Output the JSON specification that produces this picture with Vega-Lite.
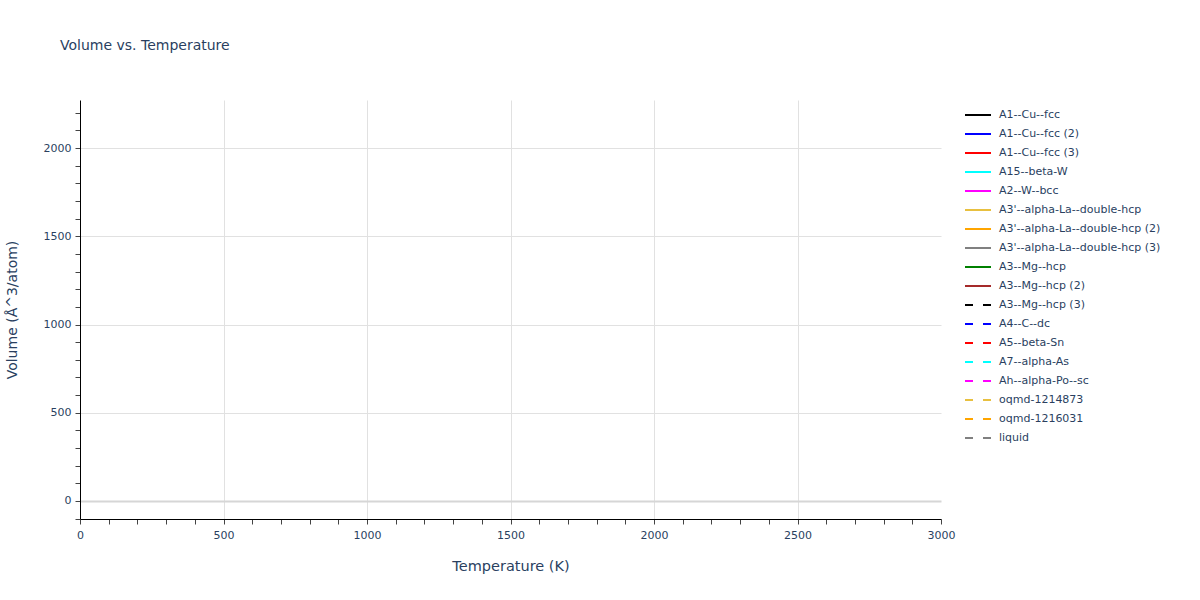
{
  "$schema": "https://vega.github.io/schema/vega-lite/v6.json",
  "autosize": "none",
  "width": 861,
  "height": 419,
  "padding": {"left": 80, "top": 100, "right": 259, "bottom": 81},
  "background": "white",
  "config": {
    "font": "DejaVu Sans",
    "view": {"stroke": null}
  },
  "title": {
    "text": "Volume vs. Temperature",
    "anchor": "start",
    "frame": "group",
    "dx": -20,
    "offset": 47,
    "fontSize": 14,
    "fontWeight": "normal",
    "color": "#2a3f5f",
    "font": "DejaVu Sans"
  },
  "data": {
    "values": [
      {"phase": "A1--Cu--fcc", "temperature": null, "volume": null},
      {"phase": "A1--Cu--fcc (2)", "temperature": null, "volume": null},
      {"phase": "A1--Cu--fcc (3)", "temperature": null, "volume": null},
      {"phase": "A15--beta-W", "temperature": null, "volume": null},
      {"phase": "A2--W--bcc", "temperature": null, "volume": null},
      {"phase": "A3'--alpha-La--double-hcp", "temperature": null, "volume": null},
      {"phase": "A3'--alpha-La--double-hcp (2)", "temperature": null, "volume": null},
      {"phase": "A3'--alpha-La--double-hcp (3)", "temperature": null, "volume": null},
      {"phase": "A3--Mg--hcp", "temperature": null, "volume": null},
      {"phase": "A3--Mg--hcp (2)", "temperature": null, "volume": null},
      {"phase": "A3--Mg--hcp (3)", "temperature": null, "volume": null},
      {"phase": "A4--C--dc", "temperature": null, "volume": null},
      {"phase": "A5--beta-Sn", "temperature": null, "volume": null},
      {"phase": "A7--alpha-As", "temperature": null, "volume": null},
      {"phase": "Ah--alpha-Po--sc", "temperature": null, "volume": null},
      {"phase": "oqmd-1214873", "temperature": null, "volume": null},
      {"phase": "oqmd-1216031", "temperature": null, "volume": null},
      {"phase": "liquid", "temperature": null, "volume": null}
    ]
  },
  "mark": {"type": "line", "strokeWidth": 2},
  "encoding": {
    "x": {
      "field": "temperature",
      "type": "quantitative",
      "scale": {"domain": [0, 3000], "nice": false, "zero": false},
      "axis": {
        "title": "Temperature (K)",
        "titleFont": "DejaVu Sans",
        "titleFontSize": 14.5,
        "titleFontWeight": "normal",
        "titleColor": "#2a3f5f",
        "titlePadding": 19,
        "values": [0,100,200,300,400,500,600,700,800,900,1000,1100,1200,1300,1400,1500,1600,1700,1800,1900,2000,2100,2200,2300,2400,2500,2600,2700,2800,2900,3000],
        "labelExpr": "datum.value % 500 === 0 ? datum.label : ''",
        "format": "d",
        "labelFont": "DejaVu Sans",
        "labelFontSize": 11,
        "labelColor": "#2a3f5f",
        "labelPadding": 5,
        "labelOverlap": false,
        "labelFlush": false,
        "domainColor": "#000000",
        "domainWidth": 1,
        "tickColor": "#444444",
        "tickSize": 5,
        "tickWidth": 1,
        "grid": true,
        "gridColor": "#e1e1e1",
        "gridWidth": 1,
        "gridOpacity": {"condition": {"test": "datum.value % 500 === 0 && datum.value > 0 && datum.value < 3000", "value": 1}, "value": 0}
      }
    },
    "y": {
      "field": "volume",
      "type": "quantitative",
      "scale": {"domain": [-102, 2272], "nice": false, "zero": false},
      "axis": {
        "title": "Volume (Å^3/atom)",
        "titleFont": "DejaVu Sans",
        "titleFontSize": 14,
        "titleFontWeight": "normal",
        "titleColor": "#2a3f5f",
        "titlePadding": 24,
        "values": [-100,0,100,200,300,400,500,600,700,800,900,1000,1100,1200,1300,1400,1500,1600,1700,1800,1900,2000,2100,2200],
        "labelExpr": "datum.value % 500 === 0 ? datum.label : ''",
        "format": "d",
        "labelFont": "DejaVu Sans",
        "labelFontSize": 11,
        "labelColor": "#2a3f5f",
        "labelPadding": 4,
        "labelOverlap": false,
        "domainColor": "#000000",
        "domainWidth": 1,
        "tickColor": "#444444",
        "tickSize": 5,
        "tickWidth": 1,
        "grid": true,
        "gridColor": {"condition": {"test": "datum.value === 0", "value": "#d6d6d6"}, "value": "#e1e1e1"},
        "gridWidth": {"condition": {"test": "datum.value === 0", "value": 2}, "value": 1},
        "gridOpacity": {"condition": {"test": "datum.value % 500 === 0", "value": 1}, "value": 0}
      }
    },
    "color": {
      "field": "phase",
      "type": "nominal",
      "title": null,
      "scale": {
        "domain": ["A1--Cu--fcc","A1--Cu--fcc (2)","A1--Cu--fcc (3)","A15--beta-W","A2--W--bcc","A3'--alpha-La--double-hcp","A3'--alpha-La--double-hcp (2)","A3'--alpha-La--double-hcp (3)","A3--Mg--hcp","A3--Mg--hcp (2)","A3--Mg--hcp (3)","A4--C--dc","A5--beta-Sn","A7--alpha-As","Ah--alpha-Po--sc","oqmd-1214873","oqmd-1216031","liquid"],
        "range": ["#000000","#0000ff","#ff0000","#00ffff","#ff00ff","#e8c040","#ffa500","#808080","#008000","#a52a2a","#000000","#0000ff","#ff0000","#00ffff","#ff00ff","#e8c040","#ffa500","#808080"]
      },
      "legend": {
        "orient": "none",
        "legendX": 884,
        "legendY": 1,
        "symbolType": "stroke",
        "symbolSize": 676,
        "symbolStrokeWidth": 2,
        "labelFont": "DejaVu Sans",
        "labelFontSize": 11,
        "labelColor": "#2a3f5f",
        "rowPadding": -1,
        "labelOffset": 7,
        "labelLimit": 300
      }
    },
    "strokeDash": {
      "field": "phase",
      "type": "nominal",
      "title": null,
      "scale": {
        "domain": ["A1--Cu--fcc","A1--Cu--fcc (2)","A1--Cu--fcc (3)","A15--beta-W","A2--W--bcc","A3'--alpha-La--double-hcp","A3'--alpha-La--double-hcp (2)","A3'--alpha-La--double-hcp (3)","A3--Mg--hcp","A3--Mg--hcp (2)","A3--Mg--hcp (3)","A4--C--dc","A5--beta-Sn","A7--alpha-As","Ah--alpha-Po--sc","oqmd-1214873","oqmd-1216031","liquid"],
        "range": [[1,0],[1,0],[1,0],[1,0],[1,0],[1,0],[1,0],[1,0],[1,0],[1,0],[8,10],[8,10],[8,10],[8,10],[8,10],[8,10],[8,10],[8,10]]
      },
      "legend": {
        "orient": "none",
        "legendX": 884,
        "legendY": 1,
        "symbolType": "stroke",
        "symbolSize": 676,
        "symbolStrokeWidth": 2,
        "labelFont": "DejaVu Sans",
        "labelFontSize": 11,
        "labelColor": "#2a3f5f",
        "rowPadding": -1,
        "labelOffset": 7,
        "labelLimit": 300
      }
    }
  }
}
